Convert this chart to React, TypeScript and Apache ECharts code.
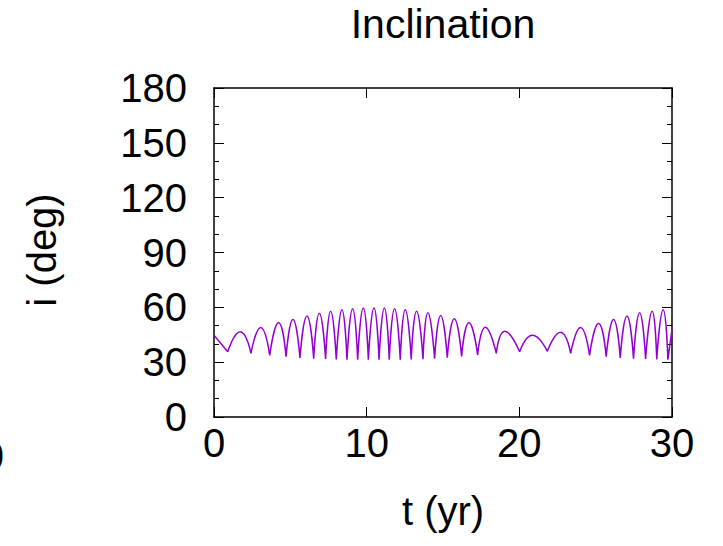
import React, { useEffect, useRef } from "react";
import * as echarts from "echarts";

// Extrema of the inclination curve (t in years, i in degrees).
// Entries alternate: start, trough, peak, trough, ..., trough, end.
const tYears = [
  0, 0.9, 1.72, 2.42, 3.06, 3.65, 4.23, 4.72, 5.17, 5.63, 6.09, 6.53, 6.9, 7.31, 7.64, 8.01,
  8.38, 8.71, 9.08, 9.41, 9.78, 10.11, 10.48, 10.81, 11.16, 11.48, 11.83, 12.2, 12.53, 12.92,
  13.27, 13.69, 14.01, 14.45, 14.85, 15.28, 15.74, 16.22, 16.7, 17.27, 17.77, 18.49, 19.04,
  20.02, 20.85, 21.83, 22.7, 23.36, 24.01, 24.6, 25.19, 25.69, 26.17, 26.61, 27.05, 27.48,
  27.88, 28.27, 28.7, 29.0, 29.42, 29.73, 30.0,
];
const incDeg = [
  44.7, 35.7, 46.7, 34.8, 49.0, 33.7, 51.6, 33.0, 53.4, 32.3, 55.3, 31.9, 56.7, 31.7, 57.8, 31.5,
  58.7, 31.4, 59.2, 31.3, 59.6, 31.3, 59.6, 31.3, 59.6, 31.3, 59.2, 31.4, 58.7, 31.5,
  57.9, 31.6, 57.1, 31.9, 55.6, 32.4, 53.8, 33.2, 51.6, 33.9, 49.1, 34.8, 46.9,
  35.7, 44.7, 35.9, 46.4, 34.8, 48.9, 33.7, 51.2, 33.0, 53.4, 32.3, 55.3, 31.9,
  57.1, 31.7, 57.8, 31.5, 58.7, 31.4, 48.0,
];

const titleText = "Inclination";
const xName = "t (yr)";
const yName = "i (deg)";
const xMin = 0, xMax = 30, xStep = 10;
const yMin = 0, yMax = 180, yStep = 30;

const FONT = "'Liberation Sans', Arial, Helvetica, sans-serif";

// Each arch runs trough -> peak -> trough, so the troughs become cusps (the curve is
// broken at every trough and restarted there).
function buildArches(): (number | string)[][] {
  const out: (number | string)[][] = [];
  for (let k = 0; k < tYears.length; k++) {
    out.push([tYears[k], incDeg[k]]);
    const isTrough = k % 2 === 1;
    if (isTrough && k < tYears.length - 1) {
      out.push([tYears[k], "-"]);
      out.push([tYears[k], incDeg[k]]);
    }
  }
  return out;
}

export default function App() {
  const ref = useRef<HTMLDivElement>(null);
  useEffect(() => {
    if (!ref.current) return;
    const chart = echarts.init(ref.current, undefined, { renderer: "svg" });
    const axisLine = { show: true, onZero: false, lineStyle: { color: "#000", width: 1.5 } };
    const tick = { show: true, inside: true, length: 10, lineStyle: { color: "#000", width: 1 } };
    const minor = { show: true, splitNumber: 3, length: 5, lineStyle: { color: "#000", width: 1 } };
    const label = { fontSize: 40, color: "#000", fontFamily: FONT };
    chart.setOption({
      animation: false,
      backgroundColor: "#fff",
      grid: { left: 214, top: 88, width: 458, height: 329, containLabel: false },
      graphic: [
        {
          type: "text", x: 443, y: 24,
          style: { text: titleText, font: `41px ${FONT}`, fill: "#000", textAlign: "center", textVerticalAlign: "middle" },
        },
        {
          type: "text", x: 443, y: 511,
          style: { text: xName, font: `40px ${FONT}`, fill: "#000", textAlign: "center", textVerticalAlign: "middle" },
        },
        {
          type: "text", x: 42, y: 250, rotation: Math.PI / 2,
          style: { text: yName, font: `40px ${FONT}`, fill: "#000", textAlign: "center", textVerticalAlign: "middle" },
        },
        {
          type: "text", x: 4, y: 456,
          style: { text: "0", font: `40px ${FONT}`, fill: "#000", textAlign: "right", textVerticalAlign: "middle" },
        },
      ],
      xAxis: [
        {
          type: "value", min: xMin, max: xMax, interval: xStep, position: "bottom",
          axisLine, axisTick: tick, axisLabel: { ...label, margin: 6 }, splitLine: { show: false },
        },
        {
          type: "value", min: xMin, max: xMax, interval: xStep, position: "top",
          axisLine, axisTick: tick, axisLabel: { show: false }, splitLine: { show: false },
        },
      ],
      yAxis: [
        {
          type: "value", min: yMin, max: yMax, interval: yStep, position: "left",
          axisLine, axisTick: tick, minorTick: minor,
          axisLabel: { ...label, margin: 27 }, splitLine: { show: false }, minorSplitLine: { show: false },
        },
        {
          type: "value", min: yMin, max: yMax, interval: yStep, position: "right",
          axisLine, axisTick: tick, minorTick: minor,
          axisLabel: { show: false }, splitLine: { show: false }, minorSplitLine: { show: false },
        },
      ],
      series: [
        {
          type: "line",
          data: buildArches(),
          xAxisIndex: 0,
          yAxisIndex: 0,
          smooth: 0.55,
          connectNulls: false,
          showSymbol: false,
          symbol: "none",
          lineStyle: { color: "#9400D3", width: 1.5 },
          z: 5,
        },
      ],
    });
    return () => chart.dispose();
  }, []);
  return (
    <div
      ref={ref}
      style={{ position: "fixed", left: 0, top: 0, width: 723, height: 546, background: "#fff" }}
    />
  );
}
